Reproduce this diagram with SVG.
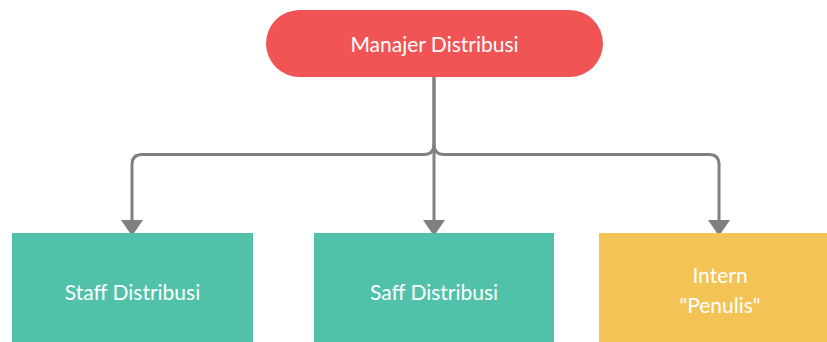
<svg xmlns="http://www.w3.org/2000/svg" width="827" height="342" viewBox="0 0 827 342">
<style>
.lbl{font-family:Lato,"Open Sans","Liberation Sans",sans-serif;font-size:21px;fill:#ffffff;text-anchor:middle}
.con{fill:none;stroke:#808080;stroke-width:3}
</style>
<rect width="827" height="342" fill="#ffffff"/>
<g id="connectors">
<path class="con" d="M434,77 V144 Q434,154.5 424,154.5 H142 Q132,154.5 132,164.5 V220"/>
<path class="con" d="M434,144 Q434,154.5 444,154.5 H709 Q719,154.5 719,164.5 V220"/>
<path class="con" d="M434,77 V220"/>
<path d="M121,220 L143,220 L132,236 Z" fill="#808080"/>
<path d="M423,220 L445,220 L434,236 Z" fill="#808080"/>
<path d="M708,220 L730,220 L719,236 Z" fill="#808080"/>
</g>
<g id="manajer">
<rect x="266" y="10" width="337" height="67" rx="33.5" fill="#F05454"/>
<text class="lbl" x="434.5" y="52">Manajer Distribusi</text>
</g>
<g id="staff">
<rect x="12" y="233" width="241" height="120" fill="#51C1A9"/>
<text class="lbl" x="132.5" y="300">Staff Distribusi</text>
</g>
<g id="saff">
<rect x="314" y="233" width="240" height="120" fill="#51C1A9"/>
<text class="lbl" x="434" y="300">Saff Distribusi</text>
</g>
<g id="intern">
<rect x="599" y="233" width="240" height="120" fill="#F3C356"/>
<text class="lbl" x="720" y="283">Intern</text>
<text class="lbl" x="720" y="313">"Penulis"</text>
</g>
</svg>
